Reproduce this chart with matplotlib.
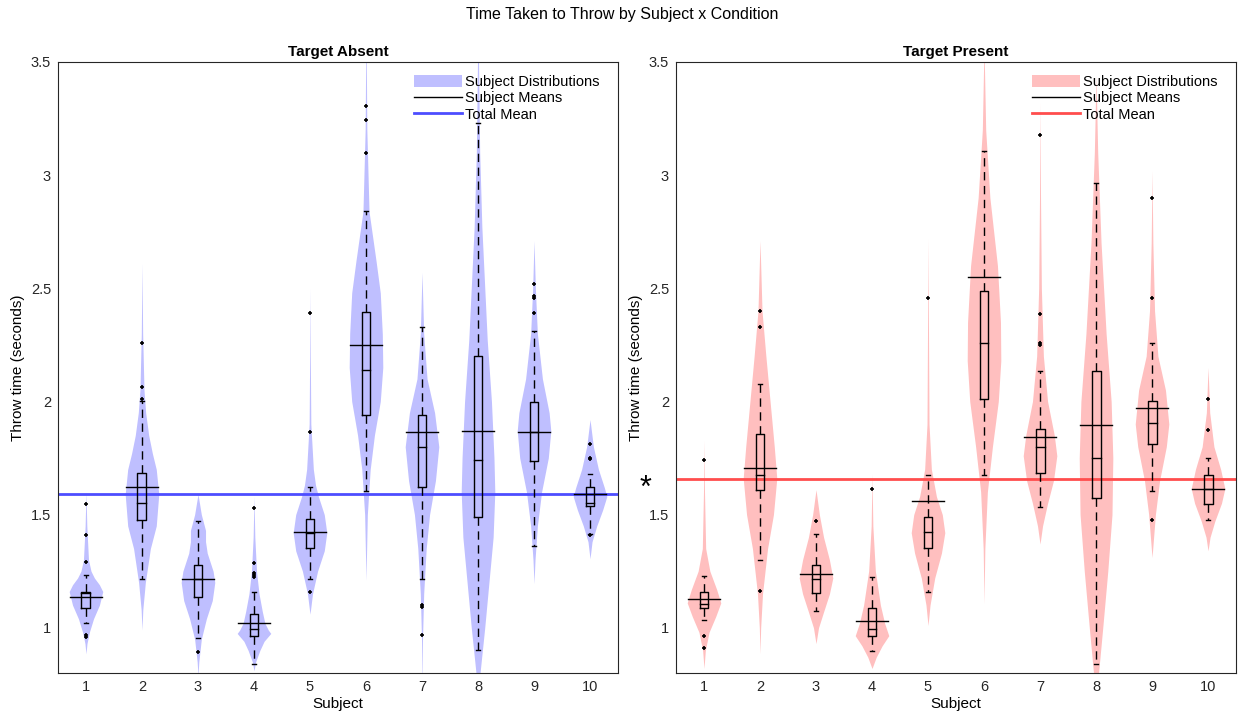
"""Time taken to throw - violin + box per subject, two conditions"""
import matplotlib
matplotlib.use('Agg')
import matplotlib.pyplot as plt
from matplotlib.patches import Patch
from matplotlib.lines import Line2D

plt.rcParams['font.family'] = ['Liberation Sans', 'DejaVu Sans']

subjects = list(range(1, 11))
conditions = ['Target Absent', 'Target Present']

# box stats: q1, median, q3, whisker low, whisker high, mean
absent_q1     = [1.088, 1.478, 1.137, 0.965, 1.354, 1.942, 1.620, 1.490, 1.739, 1.540]
absent_median = [1.155, 1.553, 1.217, 0.996, 1.420, 2.137, 1.800, 1.743, 1.867, 1.553]
absent_q3     = [1.159, 1.686, 1.279, 1.062, 1.482, 2.394, 1.938, 2.200, 1.996, 1.620]
absent_wlo    = [1.020, 1.217, 0.956, 0.840, 1.217, 1.606, 1.217, 0.900, 1.360, 1.415]
absent_whi    = [1.235, 2.000, 1.473, 1.159, 1.620, 2.840, 2.327, 3.230, 2.310, 1.680]
absent_mean   = [1.135, 1.624, 1.217, 1.022, 1.425, 2.250, 1.863, 1.870, 1.867, 1.590]
absent_out = [
    [1.549, 1.410, 1.290, 0.970, 0.960],
    [2.257, 2.062, 2.009],
    [0.894],
    [1.531, 1.288, 1.240, 1.235, 1.226],
    [2.390, 1.867, 1.159],
    [3.305, 3.243, 3.097],
    [1.100, 1.093, 0.970],
    [],
    [2.520, 2.465, 2.456, 2.390],
    [1.810, 1.750, 1.745, 1.410],
]
absent_total = 1.59

present_q1     = [1.088, 1.610, 1.155, 0.965, 1.354, 2.009, 1.686, 1.575, 1.810, 1.549]
present_median = [1.106, 1.677, 1.217, 0.996, 1.425, 2.260, 1.800, 1.748, 1.903, 1.615]
present_q3     = [1.159, 1.858, 1.279, 1.088, 1.491, 2.487, 1.880, 2.133, 2.000, 1.673]
present_wlo    = [1.035, 1.300, 1.075, 0.898, 1.159, 1.677, 1.535, 0.840, 1.606, 1.478]
present_whi    = [1.230, 2.075, 1.415, 1.226, 1.677, 3.106, 2.133, 2.965, 2.260, 1.748]
present_mean   = [1.128, 1.704, 1.238, 1.031, 1.562, 2.549, 1.845, 1.894, 1.973, 1.615]
present_out = [
    [1.743, 0.965, 0.912],
    [2.398, 2.327, 1.164],
    [1.473],
    [1.615],
    [2.456],
    [],
    [3.177, 2.385, 2.257, 2.250],
    [],
    [2.898, 2.456, 1.478],
    [2.009, 1.872],
]
present_total = 1.659

# violin outlines: y levels and relative half width (1 = widest)
absent_vy = [
    [1.60, 1.45, 1.30, 1.25, 1.22, 1.19, 1.16, 1.10, 1.04, 0.98, 0.93, 0.885],
    [2.61, 2.30, 2.05, 1.95, 1.85, 1.77, 1.70, 1.59, 1.45, 1.35, 1.20, 1.08, 0.99],
    [1.59, 1.50, 1.43, 1.38, 1.33, 1.25, 1.20, 1.12, 1.04, 0.95, 0.85, 0.80],
    [1.58, 1.40, 1.25, 1.15, 1.07, 1.02, 0.99, 0.975, 0.94, 0.90, 0.85, 0.81],
    [2.50, 2.20, 1.90, 1.70, 1.63, 1.58, 1.50, 1.42, 1.34, 1.25, 1.15, 1.06],
    [3.50, 3.20, 2.84, 2.62, 2.48, 2.30, 2.15, 2.00, 1.85, 1.70, 1.50, 1.21],
    [2.57, 2.30, 2.10, 1.95, 1.80, 1.65, 1.50, 1.35, 1.15, 0.95, 0.80],
    [3.50, 3.10, 2.77, 2.27, 2.00, 1.75, 1.60, 1.40, 1.20, 1.00, 0.80],
    [2.71, 2.50, 2.30, 2.10, 1.95, 1.87, 1.75, 1.60, 1.45, 1.30, 1.195],
    [1.92, 1.80, 1.70, 1.62, 1.58, 1.52, 1.45, 1.38, 1.305],
]
absent_vw = [
    [0.00, 0.05, 0.15, 0.30, 0.50, 0.80, 1.00, 0.80, 0.45, 0.20, 0.06, 0.00],
    [0.00, 0.04, 0.12, 0.22, 0.40, 0.62, 0.85, 1.00, 0.85, 0.50, 0.20, 0.05, 0.00],
    [0.00, 0.20, 0.45, 0.45, 0.55, 0.90, 1.00, 0.85, 0.50, 0.20, 0.05, 0.01],
    [0.00, 0.05, 0.15, 0.30, 0.50, 0.65, 0.85, 1.00, 0.60, 0.35, 0.10, 0.00],
    [0.00, 0.02, 0.05, 0.20, 0.33, 0.50, 0.85, 1.00, 0.85, 0.45, 0.15, 0.00],
    [0.02, 0.05, 0.18, 0.60, 0.85, 0.97, 1.00, 0.85, 0.50, 0.25, 0.08, 0.00],
    [0.00, 0.10, 0.30, 0.75, 1.00, 0.80, 0.45, 0.25, 0.10, 0.03, 0.01],
    [0.03, 0.10, 0.23, 0.55, 0.80, 0.95, 1.00, 0.90, 0.65, 0.40, 0.12],
    [0.00, 0.08, 0.20, 0.50, 0.90, 1.00, 0.85, 0.45, 0.20, 0.06, 0.00],
    [0.00, 0.20, 0.50, 0.85, 1.00, 0.75, 0.40, 0.12, 0.00],
]
present_vy = [
    [1.83, 1.60, 1.35, 1.25, 1.17, 1.11, 1.05, 0.98, 0.90, 0.82],
    [2.71, 2.40, 2.20, 2.00, 1.80, 1.66, 1.50, 1.35, 1.15, 1.00, 0.885],
    [1.61, 1.50, 1.40, 1.30, 1.22, 1.15, 1.07, 1.00, 0.93],
    [1.68, 1.45, 1.25, 1.10, 1.02, 0.965, 0.92, 0.87, 0.82],
    [2.72, 2.30, 1.90, 1.70, 1.58, 1.50, 1.42, 1.33, 1.22, 1.10, 1.01],
    [3.50, 3.20, 2.90, 2.60, 2.35, 2.18, 2.00, 1.80, 1.60, 1.35, 1.106],
    [3.32, 2.90, 2.50, 2.20, 2.00, 1.85, 1.76, 1.65, 1.55, 1.45, 1.37],
    [3.44, 3.10, 2.70, 2.30, 2.00, 1.75, 1.50, 1.25, 1.00, 0.80],
    [3.02, 2.70, 2.40, 2.20, 2.05, 1.90, 1.80, 1.65, 1.50, 1.31],
    [2.15, 1.95, 1.80, 1.70, 1.615, 1.55, 1.47, 1.40, 1.34],
]
present_vw = [
    [0.00, 0.03, 0.10, 0.35, 0.75, 1.00, 0.70, 0.30, 0.08, 0.00],
    [0.00, 0.12, 0.35, 0.60, 0.85, 1.00, 0.80, 0.45, 0.15, 0.04, 0.00],
    [0.00, 0.20, 0.45, 0.80, 1.00, 0.80, 0.45, 0.15, 0.00],
    [0.00, 0.05, 0.20, 0.50, 0.75, 1.00, 0.60, 0.25, 0.00],
    [0.00, 0.03, 0.06, 0.20, 0.50, 0.85, 1.00, 0.80, 0.40, 0.12, 0.00],
    [0.02, 0.10, 0.35, 0.80, 0.98, 1.00, 0.85, 0.50, 0.20, 0.05, 0.00],
    [0.00, 0.03, 0.08, 0.20, 0.45, 0.85, 1.00, 0.80, 0.45, 0.15, 0.00],
    [0.00, 0.10, 0.30, 0.60, 0.90, 1.00, 0.95, 0.70, 0.40, 0.15],
    [0.00, 0.05, 0.15, 0.35, 0.80, 1.00, 0.85, 0.45, 0.20, 0.00],
    [0.00, 0.10, 0.35, 0.75, 1.00, 0.80, 0.40, 0.12, 0.00],
]

panels = [
    dict(q1=absent_q1, med=absent_median, q3=absent_q3, wlo=absent_wlo, whi=absent_whi,
         mean=absent_mean, out=absent_out, total=absent_total, vy=absent_vy, vw=absent_vw,
         fill=(0.75, 0.75, 1.0), line=(0.3, 0.3, 1.0)),
    dict(q1=present_q1, med=present_median, q3=present_q3, wlo=present_wlo, whi=present_whi,
         mean=present_mean, out=present_out, total=present_total, vy=present_vy, vw=present_vw,
         fill=(1.0, 0.75, 0.75), line=(1.0, 0.3, 0.3)),
]

VW, BW, MW, CW = 0.30, 0.08, 0.29, 0.035   # violin, box, mean-line, cap half widths

fig = plt.figure(figsize=(12.44, 7.14), dpi=100)
axes = [fig.add_axes([0.0466, 0.0574, 0.4502, 0.8558]),
        fig.add_axes([0.5434, 0.0574, 0.4502, 0.8558])]

for ax, p, name in zip(axes, panels, conditions):
    for i, x in enumerate(subjects):
        vy, vw = p['vy'][i], p['vw'][i]
        ax.fill_betweenx(vy, [x - VW * w for w in vw], [x + VW * w for w in vw],
                         color=p['fill'], lw=0, zorder=1)
    ax.axhline(p['total'], color=p['line'], lw=2, zorder=2)
    for i, x in enumerate(subjects):
        q1, q3 = p['q1'][i], p['q3'][i]
        k = dict(color='black', lw=1, zorder=3)
        ax.plot([x - BW, x + BW, x + BW, x - BW, x - BW], [q1, q1, q3, q3, q1], **k)
        ax.plot([x - BW, x + BW], [p['med'][i]] * 2, **k)
        ax.plot([x, x], [q3, p['whi'][i]], color='black', lw=1, ls=(0, (6, 4)), zorder=3)
        ax.plot([x, x], [q1, p['wlo'][i]], color='black', lw=1, ls=(0, (6, 4)), zorder=3)
        ax.plot([x - CW, x + CW], [p['whi'][i]] * 2, **k)
        ax.plot([x - CW, x + CW], [p['wlo'][i]] * 2, **k)
        ax.plot([x - MW, x + MW], [p['mean'][i]] * 2, **k)
        if p['out'][i]:
            ax.plot([x] * len(p['out'][i]), p['out'][i], '+', color='black',
                    ms=3, mew=1.2, zorder=4)

    ax.set_xlim(0.5, 10.5)
    ax.set_ylim(0.8, 3.5)
    ax.set_xticks(subjects)
    ax.set_yticks([1, 1.5, 2, 2.5, 3, 3.5])
    ax.set_yticklabels(['1', '1.5', '2', '2.5', '3', '3.5'])
    ax.tick_params(length=0, pad=5, labelsize=10.5, colors='#262626')
    for s in ax.spines.values():
        s.set_color('#262626')
    ax.set_title(name, fontsize=11, fontweight='bold', pad=4)
    ax.set_xlabel('Subject', fontsize=11, labelpad=2)
    ax.set_ylabel('Throw time (seconds)', fontsize=11, labelpad=4)
    handles = [Patch(facecolor=p['fill'], edgecolor='none'),
               Line2D([], [], color='black', lw=1),
               Line2D([], [], color=p['line'], lw=2)]
    ax.legend(handles, ['Subject Distributions', 'Subject Means', 'Total Mean'],
              loc='upper right', frameon=False, fontsize=10.5, handlelength=3.3,
              handleheight=0.9, handletextpad=0.2, labelspacing=0.15,
              borderaxespad=0.5, bbox_to_anchor=(0.99, 1.0))

axes[1].text(-0.055, present_total - 0.045, '*', transform=axes[1].get_yaxis_transform(),
             fontsize=22, ha='center', va='center')

fig.suptitle('Time Taken to Throw by Subject x Condition', fontsize=11.5, y=0.99)
fig.savefig('out.png', dpi=100)
plt.close(fig)
